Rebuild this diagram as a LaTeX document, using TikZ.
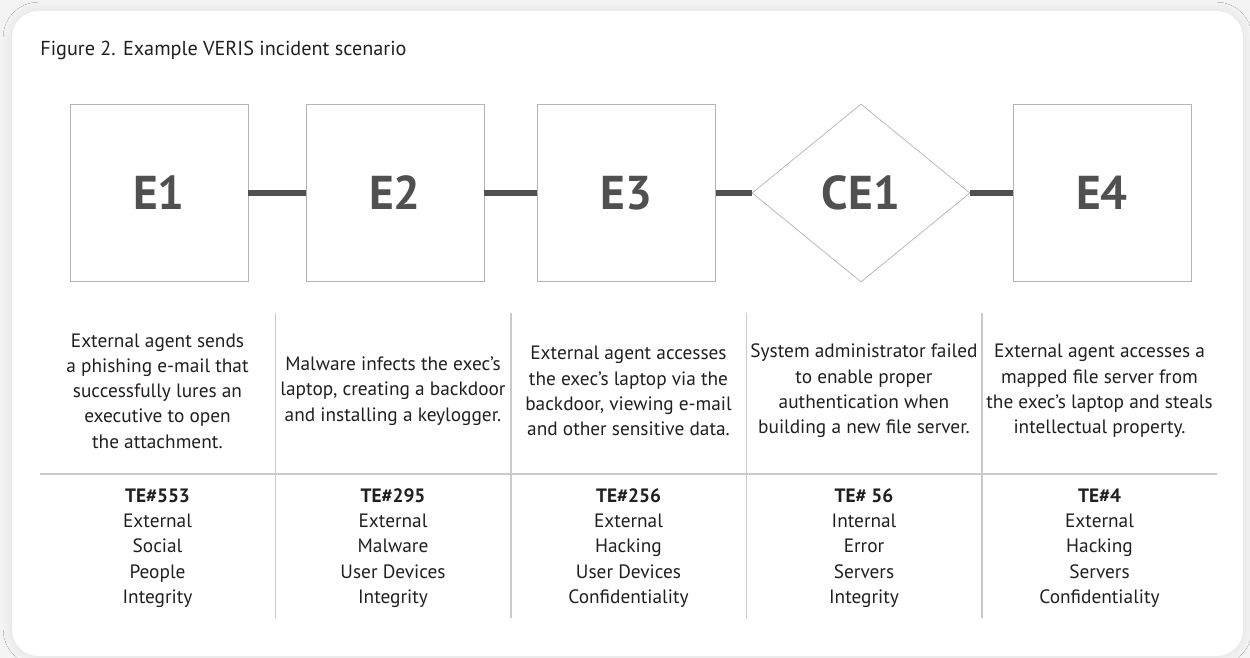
\documentclass[tikz,border=0pt]{standalone}
\usepackage{fontspec}
\setmainfont{PT Sans}
\usepackage{tikz}
\usetikzlibrary{shapes.geometric, shadows.blur}
\definecolor{evgray}{HTML}{505050}
\definecolor{linegray}{HTML}{CACACA}
\definecolor{boxgray}{HTML}{B4B4B4}
\definecolor{pagegray}{HTML}{F3F3F3}
\definecolor{inkblack}{HTML}{231F20}
\tikzstyle{event} = [rectangle, draw=boxgray, fill=white, minimum width=3.56cm, minimum height=3.54cm, text=evgray, font=\bfseries\fontsize{27}{30}\selectfont]
\tikzstyle{condition} = [diamond, draw=boxgray, fill=white, inner sep=0pt, minimum width=4.36cm, minimum height=3.56cm, text=evgray, font=\bfseries\fontsize{27}{30}\selectfont]
\tikzstyle{link} = [line width=2.9pt, draw=evgray]
\tikzstyle{desc} = [align=center, text=inkblack, font=\fontsize{11}{14.4}\selectfont]
\tikzstyle{sep} = [draw=linegray, line width=0.8pt]

\begin{document}
\begin{tikzpicture}[x=0.02cm, y=-0.02cm]
	%page and panel
	\fill[pagegray] (0,0) rectangle (1250,658);
	\useasboundingbox (0,0) rectangle (1250,658);
	\fill[white, rounded corners=15pt, blur shadow={shadow xshift=0pt, shadow yshift=0pt, shadow blur radius=5pt, shadow opacity=8}] (12,11) rectangle (1243,656);
	
	\node[anchor=west, inner sep=0pt, text=inkblack, font=\fontsize{11.5}{13}\selectfont] (title) at (40,50) {Figure 2. Example VERIS incident scenario};
	
	%events
	\node[event] (e1) at (159,193) {E1};
	\node[event] (e2) at (395,193) {E2};
	\node[event] (e3) at (626.5,193) {E3};
	\node[condition] (ce1) at (861,193) {CE1};
	\node[event] (e4) at (1102,193) {E4};
	
	\draw[link] (e1.east) -- (e2.west);
	\draw[link] (e2.east) -- (e3.west);
	\draw[link] (e3.east) -- (ce1.west);
	\draw[link] (ce1.east) -- (e4.west);
	
	%table lines
	\draw[sep] (40,474) -- (1217,474);
	\draw[sep] (275.5,313) -- (275.5,618);
	\draw[sep] (511,313) -- (511,618);
	\draw[sep] (746.5,313) -- (746.5,618);
	\draw[sep] (982,313) -- (982,618);
	
	%descriptions
	\node[desc] (d1) at (157.5,391) {External agent sends\\a phishing e-mail that\\successfully lures an\\executive to open\\the attachment.};
	\node[desc] (d2) at (393,391) {Malware infects the exec's\\laptop, creating a backdoor\\and installing a keylogger.};
	\node[desc] (d3) at (628.5,391) {External agent accesses\\the exec's laptop via the\\backdoor, viewing e-mail\\and other sensitive data.};
	\node[desc] (d4) at (864,391) {System administrator failed\\to enable proper\\authentication when\\building a new file server.};
	\node[desc] (d5) at (1099.5,391) {External agent accesses a\\mapped file server from\\the exec's laptop and steals\\intellectual property.};
	
	%threat events
	\node[desc] (t1) at (157.5,548) {\textbf{TE\#553}\\External\\Social\\People\\Integrity};
	\node[desc] (t2) at (393,548) {\textbf{TE\#295}\\External\\Malware\\User Devices\\Integrity};
	\node[desc] (t3) at (628.5,548) {\textbf{TE\#256}\\External\\Hacking\\User Devices\\Confidentiality};
	\node[desc] (t4) at (864,548) {\textbf{TE\# 56}\\Internal\\Error\\Servers\\Integrity};
	\node[desc] (t5) at (1099.5,548) {\textbf{TE\#4}\\External\\Hacking\\Servers\\Confidentiality};
	
\end{tikzpicture}
\end{document}
